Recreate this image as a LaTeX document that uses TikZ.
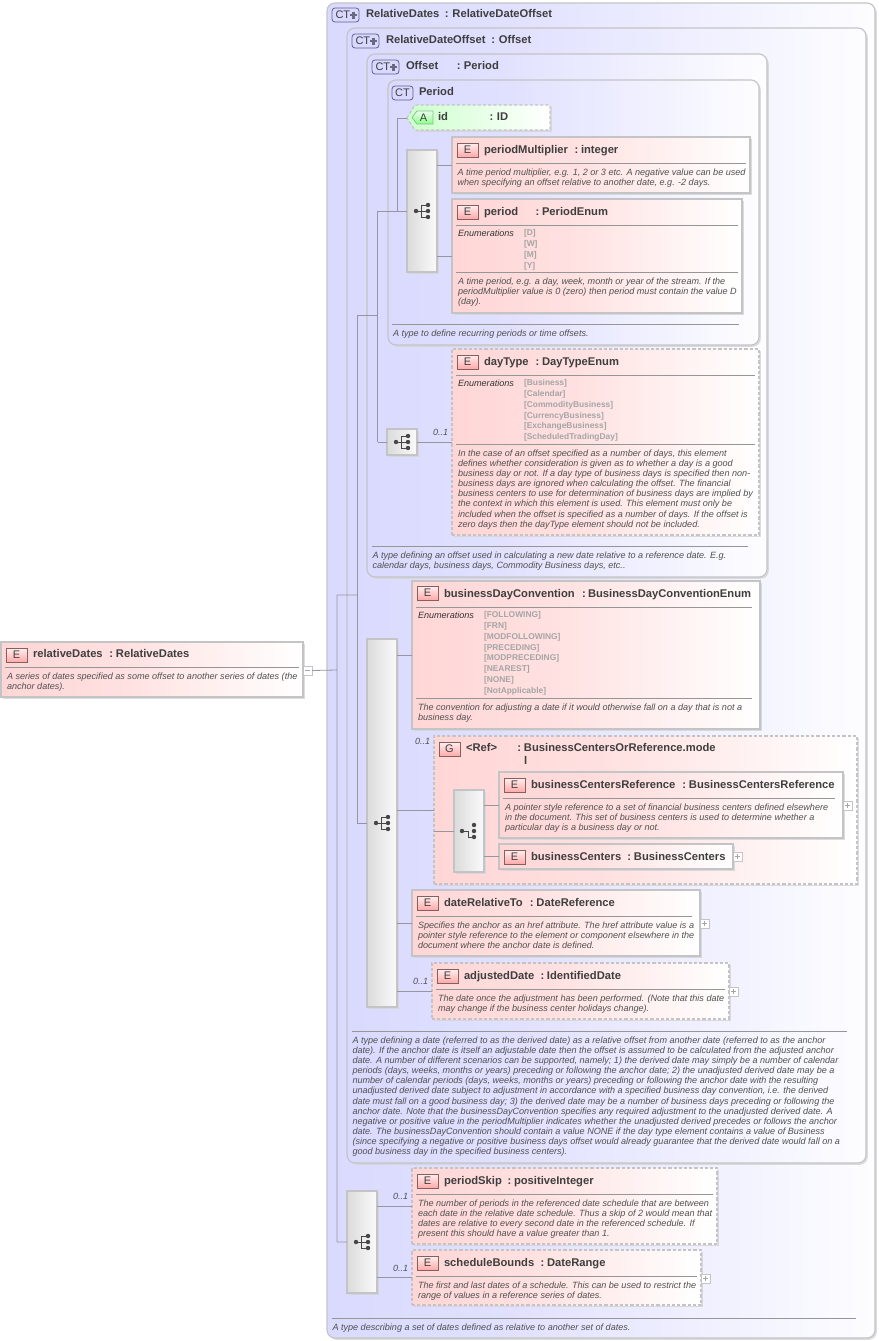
\documentclass[tikz,border=0pt]{standalone}
\usepackage{fontspec}
\setmainfont{Liberation Sans}
\usetikzlibrary{shadows}
\definecolor{bord}{RGB}{196,196,198}
\definecolor{conn}{RGB}{150,150,160}
\definecolor{rulec}{RGB}{150,150,150}
\definecolor{txt}{RGB}{62,62,62}
\definecolor{dtxt}{RGB}{80,80,80}
\definecolor{enumc}{RGB}{165,165,165}
\definecolor{pinkc}{RGB}{255,214,214}
\definecolor{bluec}{RGB}{218,218,255}
\definecolor{greenc}{RGB}{205,255,205}
\definecolor{shad}{RGB}{212,212,212}
\definecolor{eiconb}{RGB}{135,95,95}
\definecolor{cticonb}{RGB}{95,95,140}
\definecolor{ctplus}{RGB}{105,105,130}
\pgfdeclarehorizontalshading{pinkwhite}{100bp}{color(0bp)=(pinkc); color(25bp)=(pinkc); color(45bp)=(pinkc!75!white); color(75bp)=(white); color(100bp)=(white)}
\pgfdeclarehorizontalshading{bluewhite}{100bp}{color(0bp)=(bluec); color(25bp)=(bluec); color(40bp)=(bluec!85!white); color(75bp)=(white!95!bluec); color(100bp)=(white)}
\pgfdeclarehorizontalshading{greenwhite}{100bp}{color(0bp)=(greenc); color(25bp)=(greenc); color(75bp)=(white); color(100bp)=(white)}
\pgfdeclarehorizontalshading{seqshade}{100bp}{color(0bp)=(black!14); color(25bp)=(black!14); color(75bp)=(black!2); color(100bp)=(black!2)}
\pgfdeclareverticalshading{eiconshade}{100bp}{color(0bp)=(red!34!white); color(25bp)=(red!34!white); color(75bp)=(red!6!white); color(100bp)=(red!6!white)}
\pgfdeclareverticalshading{aiconshade}{100bp}{color(0bp)=(green!45!white); color(25bp)=(green!45!white); color(75bp)=(green!8!white); color(100bp)=(green!8!white)}
\tikzset{
  softshadow/.style={drop shadow={shadow xshift=1.8pt,shadow yshift=-1.8pt,fill=shad,opacity=.8}},
  basebox/.style={rectangle,draw=bord,line width=1.15pt,inner sep=0,outer sep=0,softshadow},
  elem/.style={basebox,shade,shading=pinkwhite},
  elemd/.style={elem,dash pattern=on 3.2pt off 2pt},
  grp/.style={elem,dash pattern=on 3.2pt off 2pt,line width=1.4pt},
  ctbox/.style={basebox,rounded corners=8pt,shade,shading=bluewhite},
  seqbox/.style={basebox,shade,shading=seqshade},
  attr/.style={draw=bord,line width=1.15pt,dash pattern=on 3.2pt off 2pt,shade,shading=greenwhite,softshadow},
  cline/.style={draw=conn,line width=.8pt},
  rulel/.style={draw=rulec,line width=.8pt},
  txtn/.style={inner sep=0,outer sep=0,anchor=base west,text=txt},
  ttln/.style={txtn,font=\fontsize{11.2}{13}\selectfont\bfseries},
  descn/.style={inner sep=0,outer sep=0,anchor=north west,align=left,text=dtxt,font=\fontsize{9.07}{10.17}\selectfont\itshape},
  enumn/.style={inner sep=0,outer sep=0,anchor=north west,align=left,text=enumc,font=\fontsize{8.4}{10.85}\selectfont\bfseries},
  occn/.style={txtn,text=dtxt,font=\fontsize{9}{10}\selectfont\itshape},
  eicon/.style={rectangle,draw=eiconb,line width=.7pt,inner sep=0,outer sep=0,minimum width=21pt,minimum height=14pt,anchor=north west,shade,shading=eiconshade,text=txt,font=\fontsize{11}{11}\selectfont},
  cticon/.style={rectangle,rounded corners=3pt,draw=cticonb,line width=.8pt,inner sep=0,outer sep=0,minimum height=14pt,anchor=north west,fill=blue!15!white,text=txt,font=\fontsize{11}{11}\selectfont},
  xpn/.style={rectangle,draw=bord,line width=.7pt,fill=white,inner sep=0,outer sep=0,minimum size=9pt,anchor=north west},
  icn/.style={fill=black!72,draw=none,circle,inner sep=0,outer sep=0,minimum size=4.4pt},
}
\newcount\autonum
\newcommand\nextn{\global\advance\autonum by 1 }
\newcommand\mybox[6]{\node[#6,anchor=north west,minimum width={#4-#2},minimum height={#5-#3}] (#1) at (#2,#3) {};}
% x, baseline, name, colon x, type x, type
\newcommand\myttl[6]{\nextn\node[ttln] (t\the\autonum) at (#1,#2) {\makebox[\dimexpr#4pt-#1pt\relax][l]{#3}\makebox[\dimexpr#5pt-#4pt\relax][l]{:}#6};}
\newcommand\mytxt[3]{\nextn\node[ttln] (t\the\autonum) at (#1,#2) {#3};}
\newcommand\mydesc[3]{\nextn\node[descn] (t\the\autonum) at (#1,#2-7) {\rule{0pt}{7pt}#3};}
\newcommand\myenum[4]{\nextn\node[descn,text=black!80] (t\the\autonum) at (#1,#2-7) {\rule{0pt}{7pt}Enumerations};
 \nextn\node[enumn] (t\the\autonum) at (#3,#2-7.4) {\rule{0pt}{6.4pt}#4};}
\newcommand\myocc[2]{\nextn\node[occn] (t\the\autonum) at (#1,#2) {0..1};}
\newcommand\myrule[3]{\draw[rulel] (#1,#3) -- (#2,#3);}
\newcommand\myE[3]{\nextn\node[eicon] (t\the\autonum) at (#1,#2) {#3};}
\newcommand\myCT[3]{\nextn\node[cticon,minimum width=27pt,text width=25pt,align=left] (t\the\autonum) at (#1,#2) {\hspace{2.5pt}#3};
 \draw[line width=2.4pt,draw=ctplus] (#1+18,#2+7) -- (#1+25,#2+7) (#1+21.5,#2+3.5) -- (#1+21.5,#2+10.5);}
\newcommand\myCTn[3]{\nextn\node[cticon,minimum width=21pt] (t\the\autonum) at (#1,#2) {#3};}
\newcommand\myplus[3]{\node[xpn] (#1) at (#2,#3) {};
 \draw[draw=black!35,line width=.6pt] (#2+2,#3+4.5) -- (#2+7,#3+4.5) (#2+4.5,#3+2) -- (#2+4.5,#3+7);}
\newcommand\myminus[3]{\node[xpn] (#1) at (#2,#3) {};
 \draw[draw=black!35,line width=.6pt] (#2+2,#3+4.5) -- (#2+7,#3+4.5);}
\newcommand\seqicon[2]{\draw[black!72,line width=1pt] (#1-6,#2) -- (#1-1,#2) (#1-1,#2-6) -- (#1-1,#2+6) (#1-1,#2-6) -- (#1+6,#2-6) (#1-1,#2) -- (#1+6,#2) (#1-1,#2+6) -- (#1+6,#2+6);
 \nextn\node[icn] (t\the\autonum) at (#1-6,#2) {};
 \nextn\node[icn] (t\the\autonum) at (#1+6,#2-6) {};
 \nextn\node[icn] (t\the\autonum) at (#1+6,#2) {};
 \nextn\node[icn] (t\the\autonum) at (#1+6,#2+6) {};}
\newcommand\choiceicon[2]{\draw[black!72,line width=1pt] (#1-6,#2) -- (#1,#2) -- (#1,#2+6) -- (#1+6,#2+6);
 \nextn\node[icn] (t\the\autonum) at (#1-6,#2) {};
 \nextn\node[icn] (t\the\autonum) at (#1+6,#2-6) {};
 \nextn\node[icn] (t\the\autonum) at (#1+6,#2) {};
 \nextn\node[icn] (t\the\autonum) at (#1+6,#2+6) {};}
\begin{document}
\begin{tikzpicture}[x=1pt,y=-1pt]
\useasboundingbox[fill=white] (0,0) rectangle (878,1341);
% ---- complex types, outermost first
\mybox{ctA}{327}{3}{875}{1338}{ctbox}
\mybox{ctB}{347}{28}{866}{1163}{ctbox}
\mybox{ctC}{367}{54}{767}{577}{ctbox}
\mybox{ctD}{388}{80}{759}{345}{ctbox}
% ---- root element
\mybox{root}{1}{642}{303}{697}{elem}
% ---- attribute
\path[attr] (407,118) -- (415,105) -- (550,105) -- (550,130) -- (415,130) -- cycle;
\coordinate (idw) at (407,118);
% ---- elements
\mybox{pm}{452}{137}{750}{193}{elem}
\mybox{per}{452}{199}{742}{313}{elem}
\mybox{day}{452}{349}{759}{535}{elemd}
\mybox{bdc}{412}{581}{760}{729}{elem}
\mybox{gref}{434}{736}{857}{884}{grp}
\mybox{bcr}{499}{772}{843}{838}{elem}
\mybox{bc}{499}{844}{733}{869}{elem}
\mybox{drt}{412}{890}{700}{956}{elem}
\mybox{adj}{432}{963}{729}{1019}{elemd}
\mybox{skip}{412}{1168}{717}{1244}{elemd}
\mybox{sched}{412}{1250}{701}{1305}{elemd}
% ---- compositors
\mybox{seqA}{407}{150}{437}{272}{seqbox}
\mybox{seqB}{387}{429}{417}{455}{seqbox}
\mybox{seqC}{367}{639}{397}{1007}{seqbox}
\mybox{cho}{454}{790}{484}{872}{seqbox}
\mybox{seqD}{347}{1191}{377}{1293}{seqbox}
% ---- expanders
\myminus{xroot}{303}{666}
\myplus{xbcr}{843}{801}
\myplus{xbc}{733}{852}
\myplus{xdrt}{700}{919}
\myplus{xadj}{729}{987}
\myplus{xsched}{701}{1274}
% ---- connectors
\coordinate (jA) at (337,670);
\coordinate (jAa) at (337,595);
\coordinate (jAb) at (337,1242);
\coordinate (jB) at (357,595);
\coordinate (jBa) at (357,315);
\coordinate (jBb) at (357,823);
\coordinate (jC) at (377.5,315);
\coordinate (jCa) at (377.5,211);
\coordinate (jCb) at (377.5,442);
\coordinate (jD) at (397,211);
\coordinate (jDa) at (397,118);
\draw[cline] (xroot.east) -- (jA) (jAa) -- (jAb) (jAa) -- (jB) (jAb) -- (seqD.west);
\draw[cline] (jBa) -- (jBb) (jBa) -- (jC) (jBb) -- (seqC.west);
\draw[cline] (jCa) -- (jCb) (jCa) -- (jD) (jCb) -- (seqB.west);
\draw[cline] (jDa) -- (jD) (jDa) -- (idw) (jD) -- (seqA.west);
\draw[cline] (seqA.east |- pm.west) -- (pm.west) (seqA.east |- per.west) -- (per.west);
\draw[cline] (seqB.east) -- (seqB.east -| day.west);
\draw[cline] (seqC.east |- bdc.west) -- (bdc.west) (seqC.east |- gref.west) -- (gref.west) (seqC.east |- drt.west) -- (drt.west) (seqC.east |- adj.west) -- (adj.west);
\draw[cline] (gref.west |- cho.west) -- (cho.west) (cho.east |- bcr.west) -- (bcr.west) (cho.east |- bc.west) -- (bc.west);
\draw[cline] (seqD.east |- skip.west) -- (skip.west) (seqD.east |- sched.west) -- (sched.west);
% ---- compositor glyphs
\seqicon{422}{211}
\seqicon{402}{442}
\seqicon{382}{823}
\choiceicon{468}{831}
\seqicon{362}{1242}
% ---- complex type headers
\myCT{332}{8}{CT}
\myttl{366}{17}{RelativeDates}{445}{452.5}{RelativeDateOffset}
\myCT{352}{34}{CT}
\myttl{386}{43}{RelativeDateOffset}{491.5}{499}{Offset}
\myCT{372}{60}{CT}
\myttl{406}{69}{Offset}{457}{464}{Period}
\myCTn{392}{86}{CT}
\mytxt{419}{95}{Period}
% ---- id
\path[draw=black!50!green!50,line width=.7pt,shade,shading=aiconshade] (417,111) -- (433,111) -- (433,124) -- (417,124) -- (412,117.5) -- cycle;
\nextn\node[inner sep=0,outer sep=0,text=txt,font=\fontsize{11}{11}\selectfont] (t\the\autonum) at (423.5,118) {A};
\myttl{438}{120}{id}{489.5}{497}{ID}
% ---- periodMultiplier
\myE{457}{143}{E}
\myttl{484}{153}{periodMultiplier}{574.5}{581}{integer}
\myrule{456}{746}{163}
\mydesc{457.5}{175}{A time period multiplier, e.g. 1, 2 or 3 etc. A negative value can be used\\when specifying an offset relative to another date, e.g. -2 days.}
% ---- period
\myE{457}{205}{E}
\myttl{484}{215}{period}{535.5}{542}{PeriodEnum}
\myrule{456}{738}{225}
\myenum{458}{236.5}{524}{{[D]}\\{[W]}\\{[M]}\\{[Y]}}
\myrule{456}{738}{272}
\mydesc{458}{284}{A time period, e.g. a day, week, month or year of the stream. If the\\periodMultiplier value is 0 (zero) then period must contain the value D\\(day).}
\myrule{392}{739}{324}
\mydesc{393}{336}{A type to define recurring periods or time offsets.}
% ---- dayType
\myocc{433}{435}
\myE{457}{355}{E}
\myttl{484}{365}{dayType}{535.5}{542}{DayTypeEnum}
\myrule{456}{755}{375}
\myenum{458}{386.5}{524}{{[Business]}\\{[Calendar]}\\{[CommodityBusiness]}\\{[CurrencyBusiness]}\\{[ExchangeBusiness]}\\{[ScheduledTradingDay]}}
\myrule{456}{755}{444}
\mydesc{458}{456}{In the case of an offset specified as a number of days, this element\\defines whether consideration is given as to whether a day is a good\\business day or not. If a day type of business days is specified then non-\\business days are ignored when calculating the offset. The financial\\business centers to use for determination of business days are implied by\\the context in which this element is used. This element must only be\\included when the offset is specified as a number of days. If the offset is\\zero days then the dayType element should not be included.}
\myrule{372}{748}{546}
\mydesc{372.5}{558}{A type defining an offset used in calculating a new date relative to a reference date. E.g.\\calendar days, business days, Commodity Business days, etc..}
% ---- businessDayConvention
\myE{417}{586}{E}
\myttl{444}{597}{businessDayConvention}{582}{588}{BusinessDayConventionEnum}
\myrule{416}{752}{607}
\myenum{418}{618.5}{484}{{[FOLLOWING]}\\{[FRN]}\\{[MODFOLLOWING]}\\{[PRECEDING]}\\{[MODPRECEDING]}\\{[NEAREST]}\\{[NONE]}\\{[NotApplicable]}}
\myrule{416}{752}{698}
\mydesc{418}{710}{The convention for adjusting a date if it would otherwise fall on a day that is not a\\business day.}
% ---- group
\myocc{415}{744}
\myE{439}{742}{G}
\myttl{466}{751}{<Ref>}{517.5}{524}{BusinessCentersOrReference.mode}
\mytxt{524}{764}{l}
\myE{504}{778}{E}
\myttl{531}{788}{businessCentersReference}{682.5}{689}{BusinessCentersReference}
\myrule{503}{835}{798}
\mydesc{505}{810}{A pointer style reference to a set of financial business centers defined elsewhere\\in the document. This set of business centers is used to determine whether a\\particular day is a business day or not.}
\myE{504}{850}{E}
\myttl{531}{860}{businessCenters}{627.5}{634}{BusinessCenters}
% ---- dateRelativeTo
\myE{417}{896}{E}
\myttl{444}{906}{dateRelativeTo}{530}{536.5}{DateReference}
\myrule{416}{692}{916}
\mydesc{418}{928}{Specifies the anchor as an href attribute. The href attribute value is a\\pointer style reference to the element or component elsewhere in the\\document where the anchor date is defined.}
% ---- adjustedDate
\myocc{413}{984}
\myE{437}{969}{E}
\myttl{464}{979}{adjustedDate}{540.5}{547}{IdentifiedDate}
\myrule{436}{725}{989}
\mydesc{438}{1001}{The date once the adjustment has been performed. (Note that this date\\may change if the business center holidays change).}
% ---- RelativeDateOffset doc
\myrule{352}{847}{1031}
\mydesc{352.5}{1043}{A type defining a date (referred to as the derived date) as a relative offset from another date (referred to as the anchor\\date). If the anchor date is itself an adjustable date then the offset is assumed to be calculated from the adjusted anchor\\date. A number of different scenarios can be supported, namely; 1) the derived date may simply be a number of calendar\\periods (days, weeks, months or years) preceding or following the anchor date; 2) the unadjusted derived date may be a\\number of calendar periods (days, weeks, months or years) preceding or following the anchor date with the resulting\\unadjusted derived date subject to adjustment in accordance with a specified business day convention, i.e. the derived\\date must fall on a good business day; 3) the derived date may be a number of business days preceding or following the\\anchor date. Note that the businessDayConvention specifies any required adjustment to the unadjusted derived date. A\\negative or positive value in the periodMultiplier indicates whether the unadjusted derived precedes or follows the anchor\\date. The businessDayConvention should contain a value NONE if the day type element contains a value of Business\\(since specifying a negative or positive business days offset would already guarantee that the derived date would fall on a\\good business day in the specified business centers).}
% ---- periodSkip
\myocc{393}{1199}
\myE{417}{1174}{E}
\myttl{444}{1184}{periodSkip}{507.5}{514}{positiveInteger}
\myrule{416}{713}{1194}
\mydesc{418}{1206}{The number of periods in the referenced date schedule that are between\\each date in the relative date schedule. Thus a skip of 2 would mean that\\dates are relative to every second date in the referenced schedule. If\\present this should have a value greater than 1.}
% ---- scheduleBounds
\myocc{393}{1271}
\myE{417}{1256}{E}
\myttl{444}{1266}{scheduleBounds}{540.5}{547}{DateRange}
\myrule{416}{697}{1276}
\mydesc{418}{1288}{The first and last dates of a schedule. This can be used to restrict the\\range of values in a reference series of dates.}
% ---- outer doc
\myrule{332}{856}{1318}
\mydesc{332.5}{1330}{A type describing a set of dates defined as relative to another set of dates.}
% ---- root text
\myE{6}{648}{E}
\myttl{33}{657}{relativeDates}{109.5}{116}{RelativeDates}
\myrule{5}{299}{667}
\mydesc{7}{679}{A series of dates specified as some offset to another series of dates (the\\anchor dates).}
\end{tikzpicture}
\end{document}
